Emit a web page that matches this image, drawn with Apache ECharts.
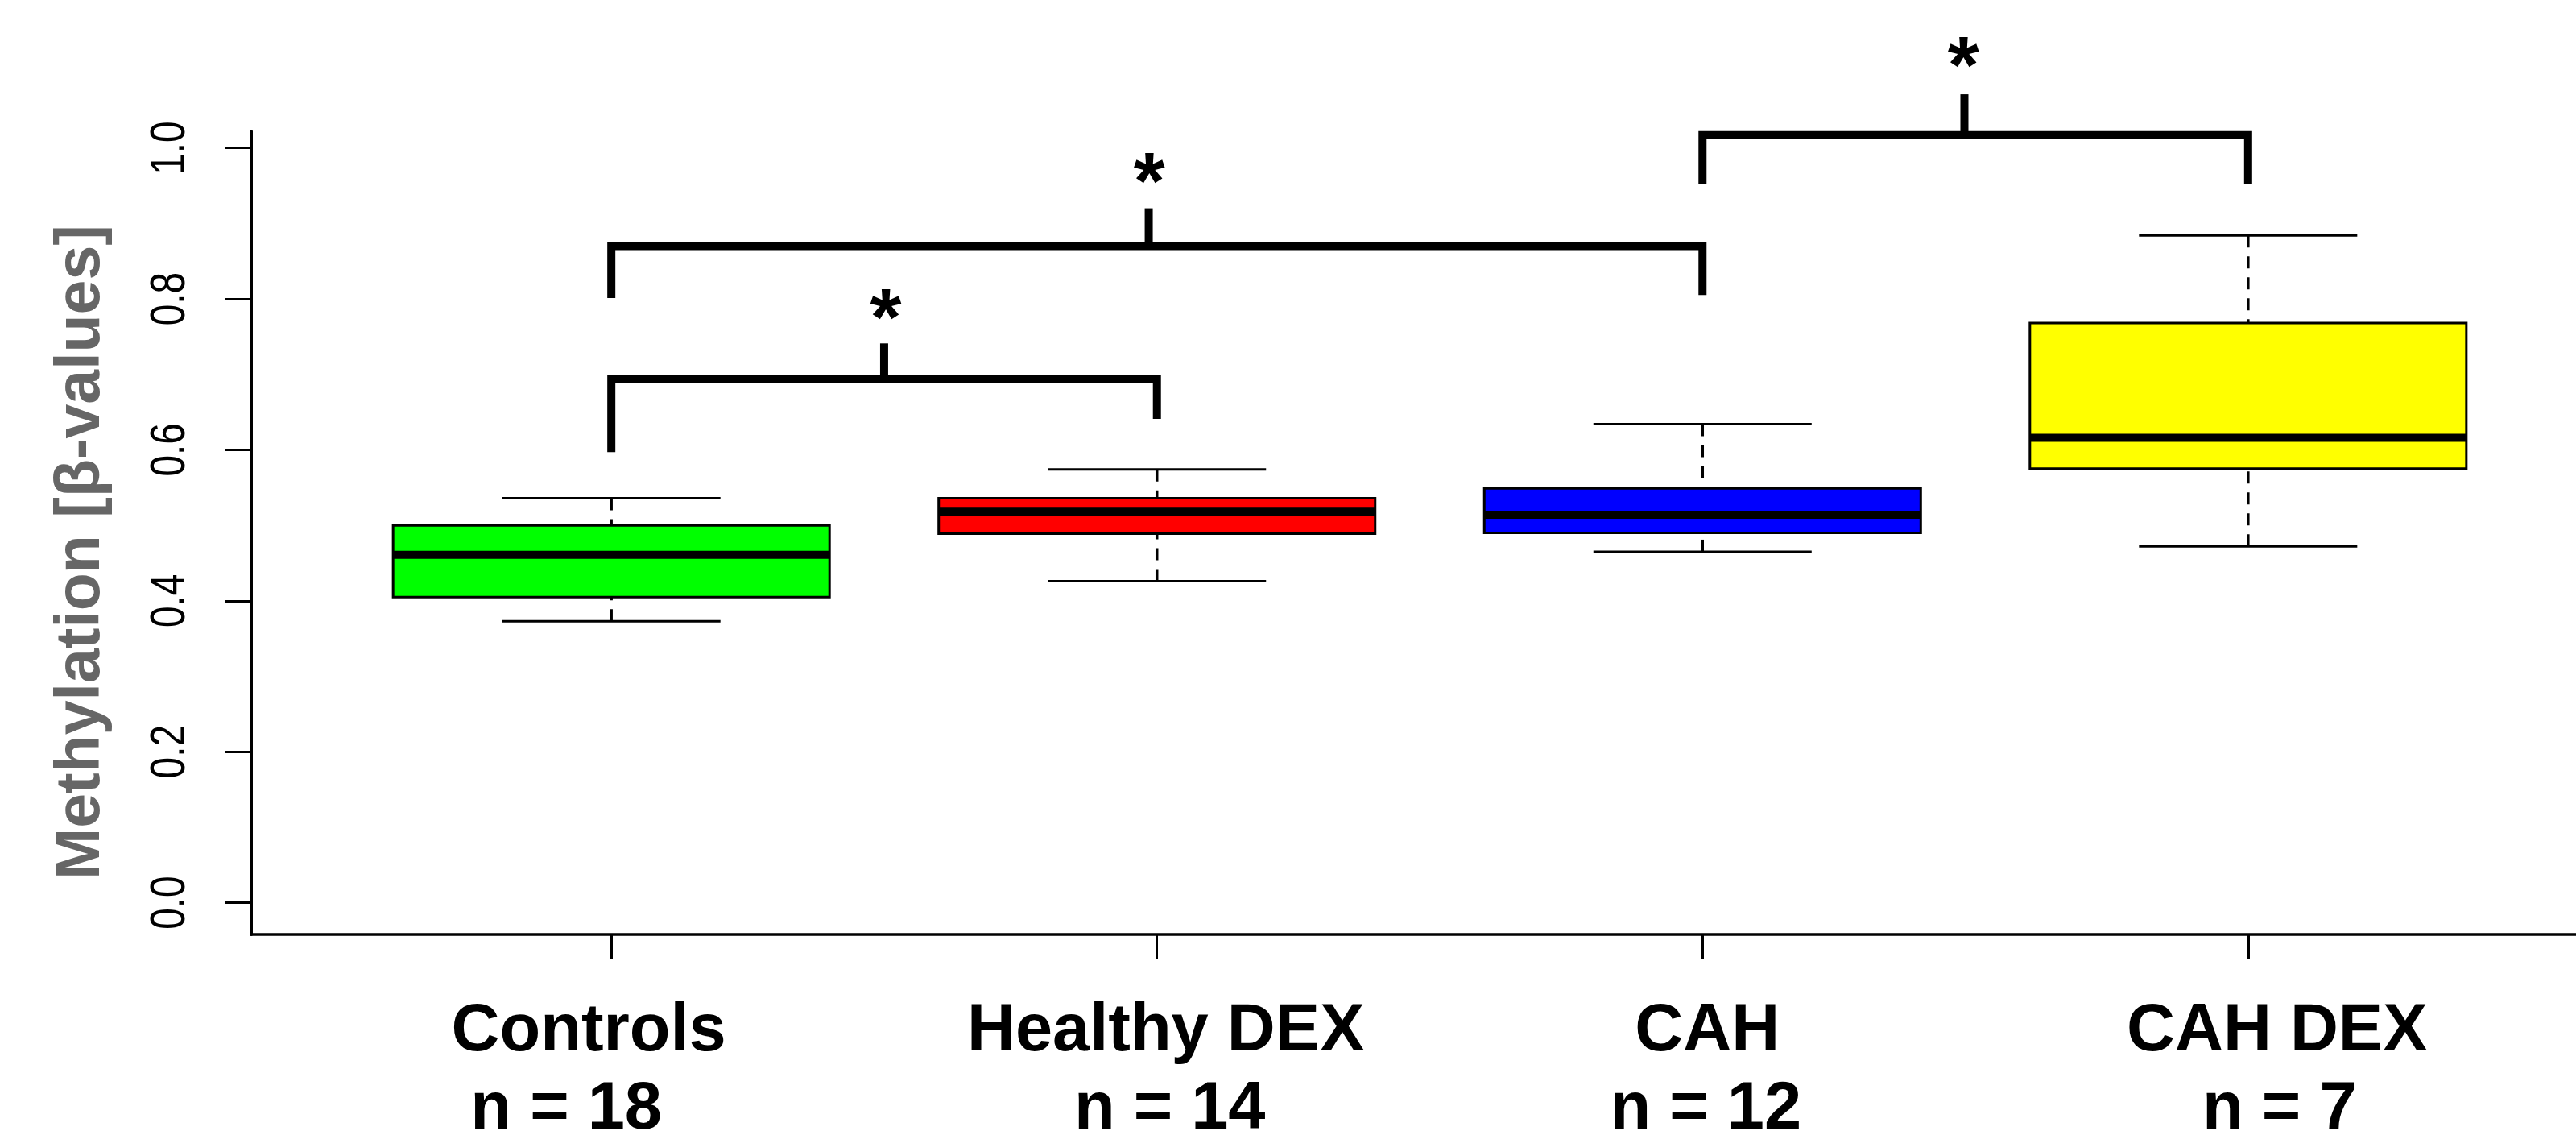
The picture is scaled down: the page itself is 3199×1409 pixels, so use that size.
<!DOCTYPE html>
<html>
<head>
<meta charset="utf-8">
<script src="https://cdn.jsdelivr.net/npm/echarts@6/dist/echarts.min.js"></script>
<style>
html,body{margin:0;padding:0;background:#ffffff;}
#chart{width:3199px;height:1409px;}
</style>
</head>
<body>
<div id="chart"></div>
<script>
// ---- data ----
const categories = ['Controls', 'Healthy DEX', 'CAH', 'CAH DEX'];
const sampleSizes = [18, 14, 12, 7];
const whiskerLow  = [0.373, 0.426, 0.465, 0.472];
const quartile1   = [0.405, 0.489, 0.490, 0.575];
const medians     = [0.461, 0.518, 0.514, 0.616];
const quartile3   = [0.500, 0.536, 0.549, 0.768];
const whiskerHigh = [0.536, 0.574, 0.634, 0.884];
const boxColors   = ['#00ff00', '#ff0000', '#0000ff', '#ffff00'];

const yTicks = [0.0, 0.2, 0.4, 0.6, 0.8, 1.0];
const yTickLabels = ['0.0', '0.2', '0.4', '0.6', '0.8', '1.0'];
const yTitle = 'Methylation [\u03b2-values]';

// significance brackets (data units)
const bracketFrom     = [1, 1, 3];
const bracketTo       = [2, 3, 4];
const bracketBar      = [0.694, 0.870, 1.017];
const bracketLeftEnd  = [0.597, 0.801, 0.952];
const bracketRightEnd = [0.641, 0.805, 0.952];
const bracketTickX    = [1.5, 1.985, 3.48];
const bracketTickTop  = [0.741, 0.920, 1.071];
const starX           = [1.503, 1.986, 3.478];
const starY           = [0.790, 0.970, 1.124];
const starText        = '*';

// ---- build ----
const X_MIN = 0.34, X_MAX = 4.66;
const boxData = categories.map((c, i) => [i + 1, whiskerLow[i], quartile1[i], medians[i], quartile3[i], whiskerHigh[i]]);
const bracketData = bracketFrom.map((f, i) => [f, bracketTo[i], bracketBar[i], bracketLeftEnd[i], bracketRightEnd[i],
  bracketTickX[i], bracketTickTop[i], starX[i], starY[i]]);
const yLabelData = yTicks.map((v, i) => [X_MIN, v, i]);

const BOX_WIDTH = 0.8;      // in category units (R boxwex)
const STAPLE = 0.5;         // staple width relative to box
const labelFont = '"Liberation Sans", Arial, Helvetica, sans-serif';

// per-label horizontal shift in px (line1, line2)
const labelShift = [[-28, -56], [11, 16], [6, 4], [36, 39]];
const rich = {};
labelShift.forEach((s, i) => {
  ['a', 'b'].forEach((k, j) => {
    const v = s[j];
    rich['l' + i + k] = {
      fontFamily: labelFont, fontWeight: 'bold', fontSize: 83, color: '#000', lineHeight: 97,
      padding: v < 0 ? [0, -2 * v, 0, 0] : [0, 0, 0, 2 * v]
    };
  });
});

function renderBox(params, api) {
  const x = api.value(0);
  const lo = api.coord([x, api.value(1)]);
  const b1 = api.coord([x, api.value(2)]);
  const md = api.coord([x, api.value(3)]);
  const b3 = api.coord([x, api.value(4)]);
  const hi = api.coord([x, api.value(5)]);
  const half = api.size([BOX_WIDTH / 2, 0])[0];
  const cap = half * STAPLE;
  const cx = lo[0];
  const dash = { stroke: '#000', lineWidth: 3.5, lineDash: [15, 11], lineCap: 'butt' };
  return {
    type: 'group',
    children: [
      { type: 'line', shape: { x1: cx, y1: hi[1], x2: cx, y2: b3[1] }, style: dash },
      { type: 'line', shape: { x1: cx, y1: lo[1], x2: cx, y2: b1[1] }, style: dash },
      { type: 'line', shape: { x1: cx - cap, y1: hi[1], x2: cx + cap, y2: hi[1] }, style: { stroke: '#000', lineWidth: 3 } },
      { type: 'line', shape: { x1: cx - cap, y1: lo[1], x2: cx + cap, y2: lo[1] }, style: { stroke: '#000', lineWidth: 3 } },
      { type: 'rect', shape: { x: cx - half, y: b3[1], width: 2 * half, height: b1[1] - b3[1] },
        style: { fill: boxColors[params.dataIndex], stroke: '#000', lineWidth: 3 } },
      { type: 'line', shape: { x1: cx - half, y1: md[1], x2: cx + half, y2: md[1] }, style: { stroke: '#000', lineWidth: 10 } }
    ]
  };
}

function renderBracket(params, api) {
  const x1 = api.value(0), x2 = api.value(1), yb = api.value(2);
  const L = api.coord([x1, api.value(3)]);
  const LB = api.coord([x1, yb]);
  const RB = api.coord([x2, yb]);
  const R = api.coord([x2, api.value(4)]);
  const T0 = api.coord([api.value(5), yb]);
  const T1 = api.coord([api.value(5), api.value(6)]);
  const S = api.coord([api.value(7), api.value(8)]);
  const fs = 100;
  return {
    type: 'group',
    children: [
      { type: 'polyline', shape: { points: [L, LB, RB, R] },
        style: { stroke: '#000', lineWidth: 10, fill: null, lineJoin: 'miter', lineCap: 'butt' } },
      { type: 'line', shape: { x1: T0[0], y1: T0[1], x2: T1[0], y2: T1[1] },
        style: { stroke: '#000', lineWidth: 10, lineCap: 'butt' } },
      { type: 'text', x: S[0], y: S[1] + fs * 0.2,
        style: { text: starText, font: 'bold ' + fs + 'px ' + labelFont, fill: '#000', align: 'center', verticalAlign: 'middle' } }
    ]
  };
}

// y tick labels: rotated, horizontally condensed text placed at the tick values
function renderYLabel(params, api) {
  const p = api.coord([api.value(0), api.value(1)]);
  return {
    type: 'text', x: p[0] - 69, y: p[1], rotation: Math.PI / 2, scaleX: 0.77, scaleY: 1,
    style: { text: yTickLabels[api.value(2)], font: '62px ' + labelFont, fill: '#000', align: 'center', verticalAlign: 'bottom' }
  };
}

const chart = echarts.init(document.getElementById('chart'), null, { renderer: 'canvas' });
chart.setOption({
  animation: false,
  backgroundColor: '#ffffff',
  grid: { left: 312, top: 163, width: 2927, height: 997, containLabel: false, outerBoundsMode: 'none' },
  xAxis: {
    type: 'value', min: X_MIN, max: X_MAX,
    splitLine: { show: false },
    axisLine: { show: true, onZero: false, lineStyle: { color: '#000', width: 3.5 } },
    axisTick: { show: true, customValues: [1, 2, 3, 4], length: 30, lineStyle: { color: '#000', width: 3 } },
    axisLabel: {
      show: true, customValues: [1, 2, 3, 4], margin: 73,
      formatter: function (v) {
        const i = Math.round(v) - 1;
        return '{l' + i + 'a|' + categories[i] + '}\n{l' + i + 'b|n = ' + sampleSizes[i] + '}';
      },
      rich: rich
    }
  },
  yAxis: {
    type: 'value', min: -0.042, max: 1.022,
    splitLine: { show: false },
    axisLine: { show: true, onZero: false, lineStyle: { color: '#000', width: 4 } },
    axisTick: { show: true, customValues: yTicks, length: 32, lineStyle: { color: '#000', width: 3 } },
    axisLabel: { show: false },
    name: yTitle, nameLocation: 'middle', nameRotate: 90, nameGap: 172,
    nameTextStyle: { fontFamily: labelFont, fontWeight: 'bold', fontSize: 77, color: '#666666', padding: [0, 48, 0, 0] }
  },
  series: [
    { type: 'custom', name: 'boxes', renderItem: renderBox, data: boxData, clip: false,
      encode: { x: 0, y: [1, 2, 3, 4, 5] } },
    { type: 'custom', name: 'brackets', renderItem: renderBracket, data: bracketData, clip: false,
      encode: { x: [0, 1], y: [2, 3, 4] } },
    { type: 'custom', name: 'yLabels', renderItem: renderYLabel, data: yLabelData, clip: false, silent: true,
      encode: { x: 0, y: 1 } }
  ]
});
</script>
</body>
</html>
